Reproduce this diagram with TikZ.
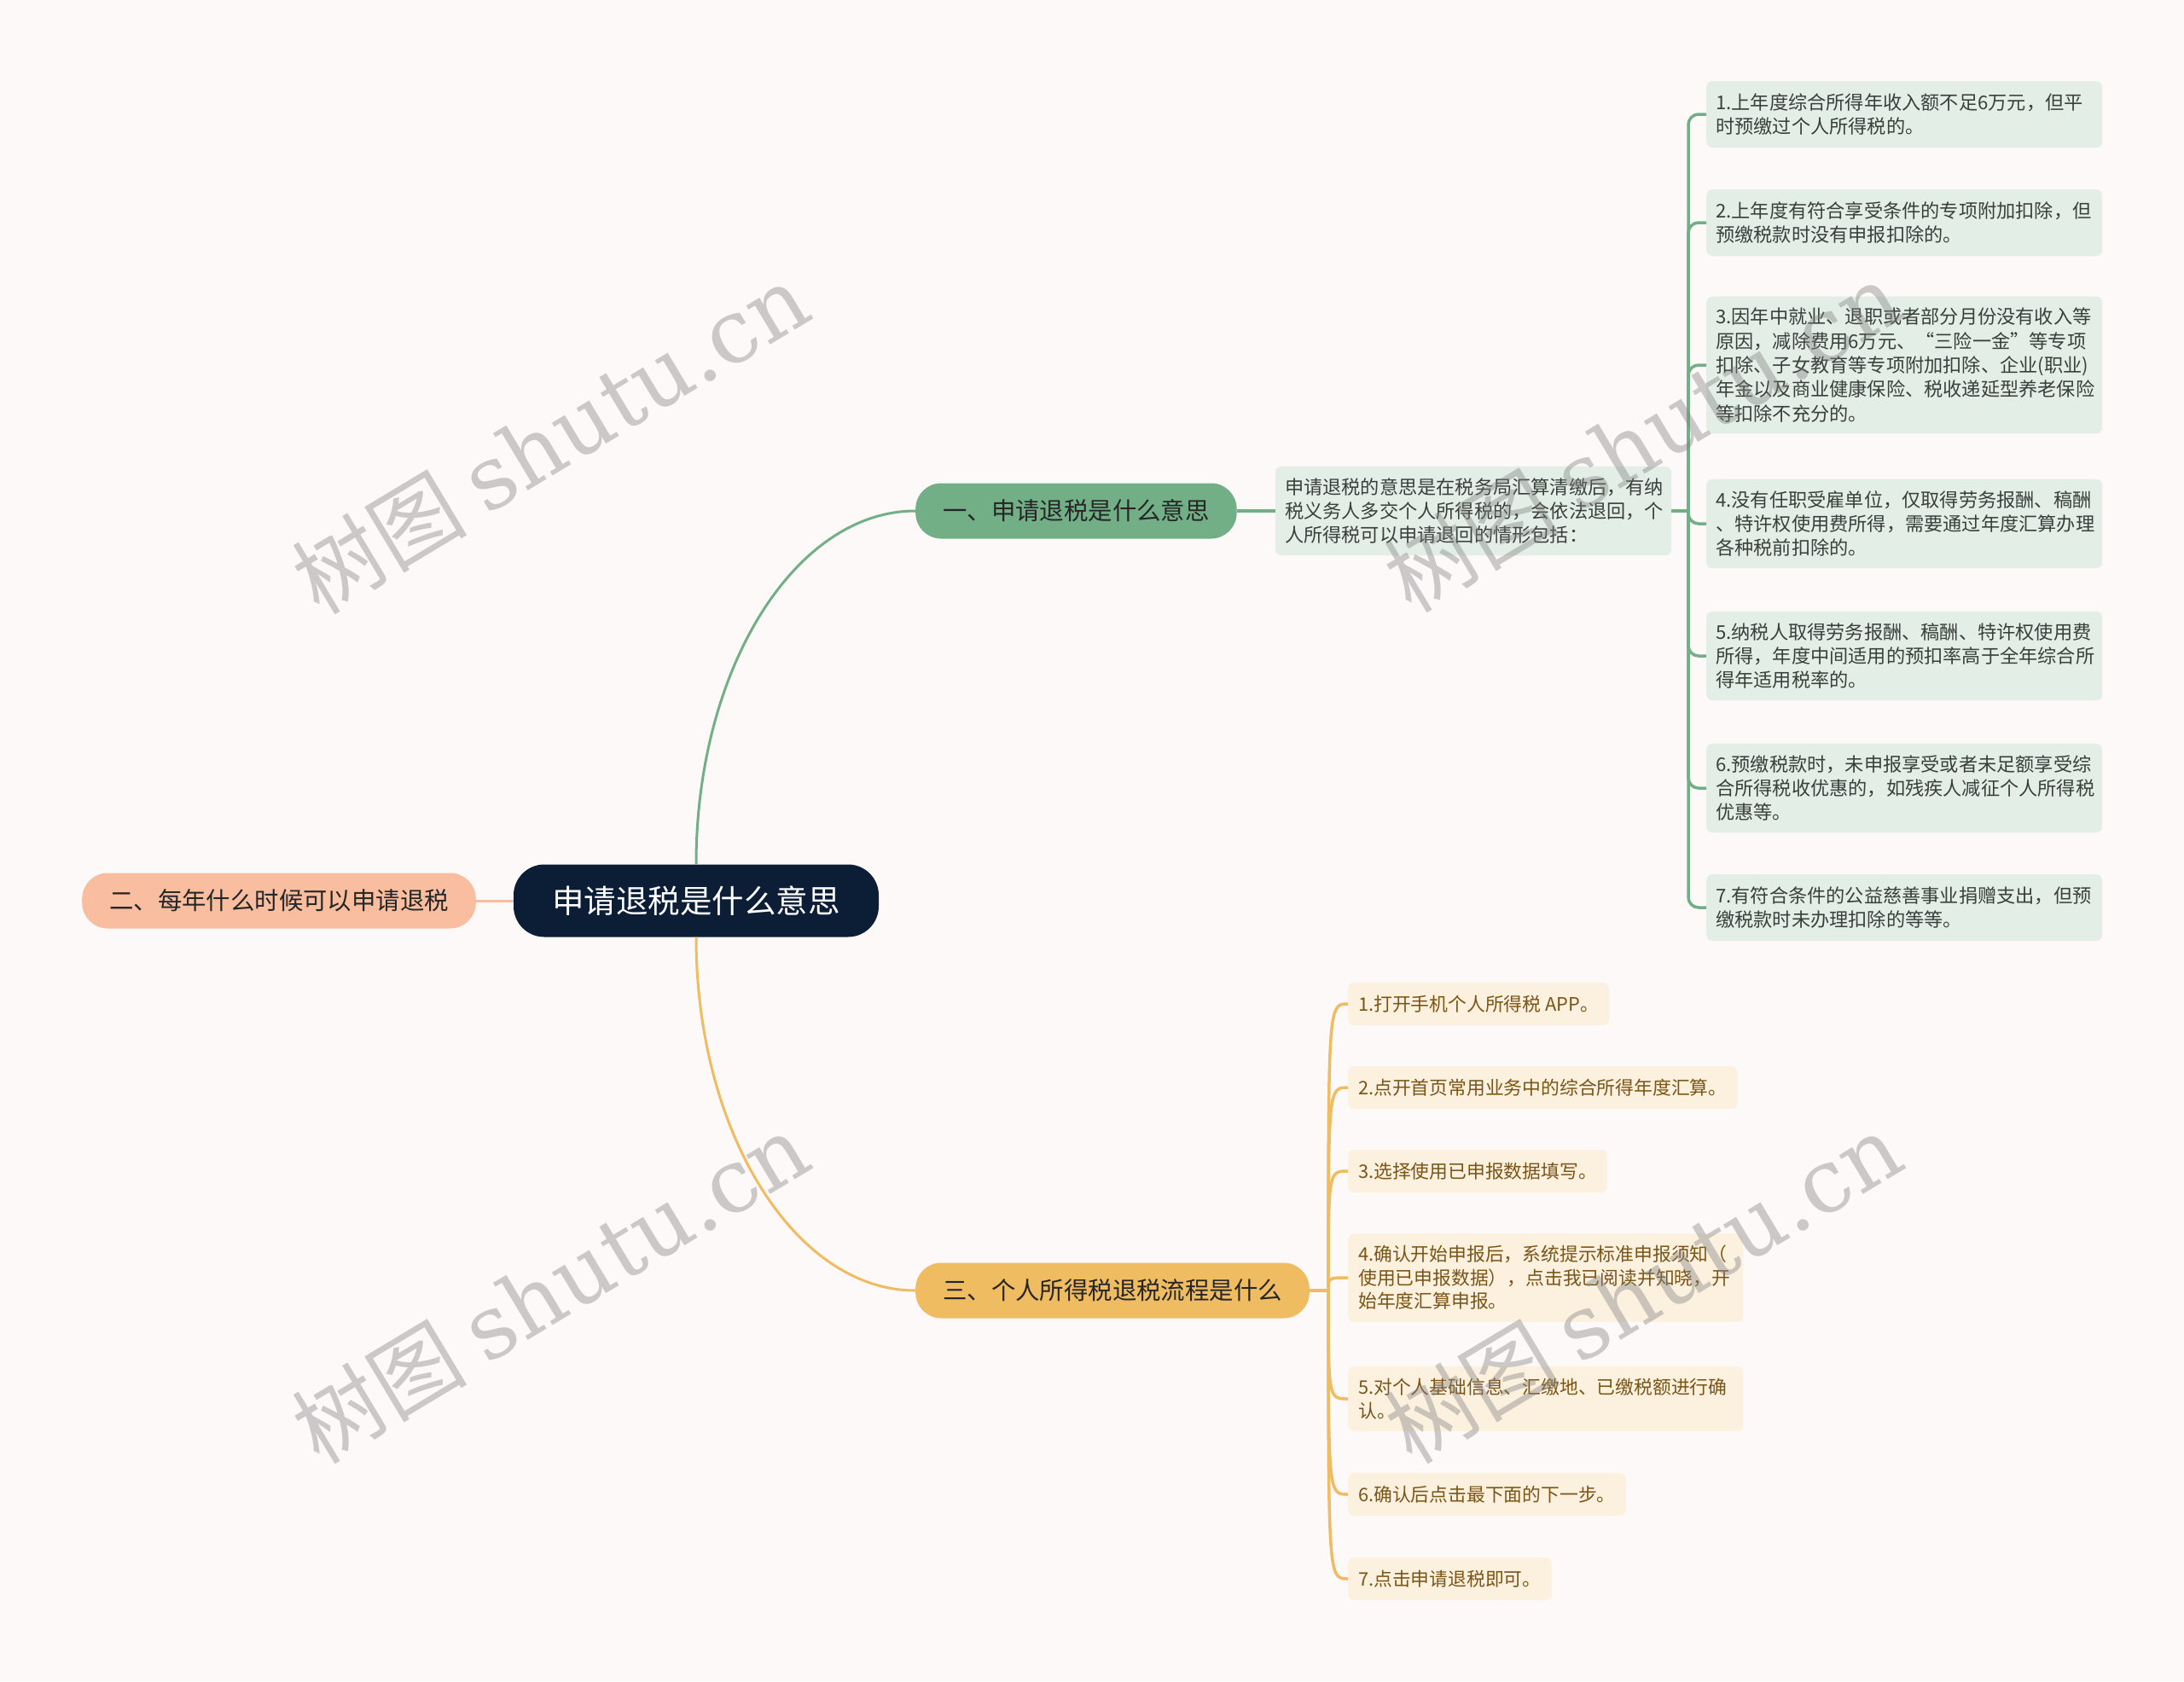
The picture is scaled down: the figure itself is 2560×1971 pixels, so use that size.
\documentclass[tikz,border=0pt]{standalone}
\usepackage{fontspec}
\setmainfont{Noto Sans CJK SC}
\newfontfamily\wmfont{DejaVu Serif}
\usepackage{xcolor}
\usetikzlibrary{positioning}

\definecolor{bgcol}{HTML}{FCF9F8}
\definecolor{rootcol}{HTML}{0C1D36}
\definecolor{greencol}{HTML}{72AE86}
\definecolor{greenpale}{HTML}{E3EFE6}
\definecolor{peachcol}{HTML}{F9BE9F}
\definecolor{yellowcol}{HTML}{F0BC62}
\definecolor{yellowpale}{HTML}{FCF0DF}
\definecolor{browntxt}{HTML}{7A5516}
\definecolor{greytxt}{HTML}{3A3F3B}

\begin{document}
\begin{tikzpicture}[
    x=1pt, y=-1pt,
    rootbox/.style={rectangle, rounded corners=36pt, fill=rootcol, text=white, minimum width=428pt, minimum height=85pt, font=\fontsize{37.5}{45}\selectfont},
    topic/.style={rectangle, rounded corners=30pt, minimum height=65pt, inner xsep=32pt, text=black!85, font=\fontsize{28.4}{34}\selectfont},
    gleaf/.style={rectangle, rounded corners=7pt, fill=greenpale, text=greytxt, align=left, text width=442pt, inner xsep=11pt, inner ysep=13.5pt, minimum height=78pt, anchor=west, font=\fontsize{22.2}{28.3}\selectfont},
    yleaf/.style={rectangle, rounded corners=7pt, fill=yellowpale, text=browntxt, align=left, inner xsep=12pt, inner ysep=14pt, minimum height=50pt, anchor=west, font=\fontsize{21.8}{27.5}\selectfont},
    glink/.style={draw=greencol, line width=3.5pt},
    ylink/.style={draw=yellowcol, line width=3.5pt},
    wmark/.style={text=black!50, text opacity=0.4, rotate=31, font=\fontsize{103}{103}\selectfont}
]

\useasboundingbox (0,0) rectangle (2560,1971);
\fill[bgcol] (0,0) rectangle (2560,1971);

% centre and main topics
\node[rootbox] (root) at (816,1056) {申请退税是什么意思};
\node[topic, fill=greencol, anchor=west] (b1) at (1073,599) {一、申请退税是什么意思};
\node[topic, fill=peachcol, anchor=east] (b2) at (558,1056) {二、每年什么时候可以申请退税};
\node[topic, fill=yellowcol, anchor=west] (b3) at (1073,1513) {三、个人所得税退税流程是什么};

\draw[glink, line width=3pt] (root.north) .. controls (816,784) and (932,599) .. (b1.west);
\draw[ylink, line width=3pt] (root.south) .. controls (816,1328) and (932,1513) .. (b3.west);
\draw[draw=peachcol, line width=3pt] (root.west) -- (b2.east);

% branch one
\node[gleaf, right=45pt of b1] (desc) {申请退税的意思是在税务局汇算清缴后，有纳\\税义务人多交个人所得税的，会依法退回，个\\人所得税可以申请退回的情形包括：};
\draw[glink] (b1.east) -- (desc.west);

\node[gleaf] (g1) at (2000,134) {1.上年度综合所得年收入额不足6万元，但平\\时预缴过个人所得税的。};
\node[gleaf] (g2) at (2000,261) {2.上年度有符合享受条件的专项附加扣除，但\\预缴税款时没有申报扣除的。};
\node[gleaf] (g3) at (2000,428) {3.因年中就业、退职或者部分月份没有收入等\\原因，减除费用6万元、“三险一金”等专项\\扣除、子女教育等专项附加扣除、企业(职业)\\年金以及商业健康保险、税收递延型养老保险\\等扣除不充分的。};
\node[gleaf] (g4) at (2000,614) {4.没有任职受雇单位，仅取得劳务报酬、稿酬\\、特许权使用费所得，需要通过年度汇算办理\\各种税前扣除的。};
\node[gleaf] (g5) at (2000,769) {5.纳税人取得劳务报酬、稿酬、特许权使用费\\所得，年度中间适用的预扣率高于全年综合所\\得年适用税率的。};
\node[gleaf] (g6) at (2000,924) {6.预缴税款时，未申报享受或者未足额享受综\\合所得税收优惠的，如残疾人减征个人所得税\\优惠等。};
\node[gleaf] (g7) at (2000,1064) {7.有符合条件的公益慈善事业捐赠支出，但预\\缴税款时未办理扣除的等等。};

\coordinate (gj) at (1979,599);
\draw[glink] (desc.east) -- (gj);
\foreach \n in {1,...,7}
    \draw[glink, rounded corners=12pt] (gj) |- (g\n.west);

% branch three
\node[yleaf] (y1) at (1580,1177) {1.打开手机个人所得税 APP。};
\node[yleaf] (y2) at (1580,1275) {2.点开首页常用业务中的综合所得年度汇算。};
\node[yleaf] (y3) at (1580,1373) {3.选择使用已申报数据填写。};
\node[yleaf, text width=439pt] (y4) at (1580,1498) {4.确认开始申报后，系统提示标准申报须知（\\使用已申报数据），点击我已阅读并知晓，开\\始年度汇算申报。};
\node[yleaf, text width=439pt] (y5) at (1580,1640) {5.对个人基础信息、汇缴地、已缴税额进行确\\认。};
\node[yleaf] (y6) at (1580,1752) {6.确认后点击最下面的下一步。};
\node[yleaf] (y7) at (1580,1851) {7.点击申请退税即可。};

\coordinate (yj) at (1557,1513);
\draw[ylink] (b3.east) -- (yj);
\foreach \n in {1,...,7}
    \draw[ylink] (yj) .. controls (yj |- y\n.west) .. (y\n.west);

% watermarks
\node[wmark] (wm1) at (645,514) {树图 {\wmfont shutu.cn}};
\node[wmark] (wm2) at (645,1510) {树图 {\wmfont shutu.cn}};
\node[wmark] (wm3) at (1925,512) {树图 {\wmfont shutu.cn}};
\node[wmark] (wm4) at (1926,1510) {树图 {\wmfont shutu.cn}};

\end{tikzpicture}
\end{document}
